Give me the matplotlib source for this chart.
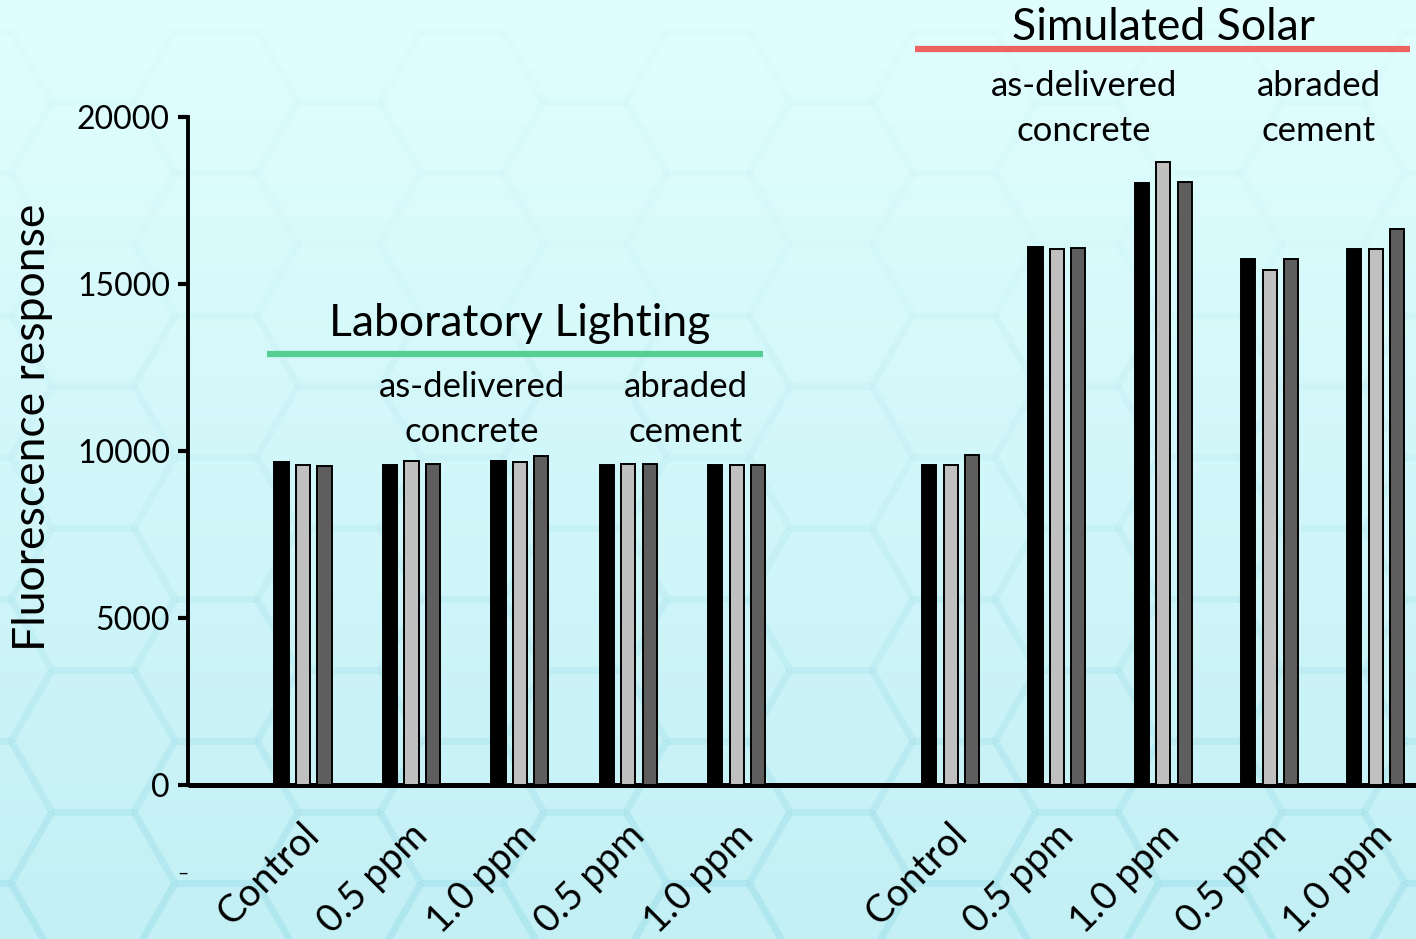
import numpy as np
import matplotlib
matplotlib.use("Agg")
import matplotlib.pyplot as plt
import matplotlib.transforms as mtransforms
from matplotlib.collections import LineCollection

# ---- data ----
categories = ["Control", "0.5 ppm", "1.0 ppm", "0.5 ppm", "1.0 ppm",
              "Control", "0.5 ppm", "1.0 ppm", "0.5 ppm", "1.0 ppm"]
rep1 = [9670, 9580, 9700, 9580, 9580, 9580, 16110, 18020, 15750, 16050]
rep2 = [9580, 9700, 9670, 9610, 9580, 9580, 16050, 18650, 15420, 16050]
rep3 = [9550, 9610, 9850, 9610, 9580, 9880, 16080, 18050, 15750, 16650]
yticks = [0, 5000, 10000, 15000, 20000]
ylabel = "Fluorescence response"

FONT = "Lato"
plt.rcParams["font.family"] = [FONT, "DejaVu Sans"]

W, H = 1416, 939
fig = plt.figure(figsize=(W / 100, H / 100), dpi=100)

# ---- background: soft cyan gradient with faint hexagon mesh ----
bg = fig.add_axes([0, 0, 1, 1], zorder=-10)
bg.set_xlim(0, W)
bg.set_ylim(H, 0)
bg.axis("off")
top = np.array([0.882, 0.996, 0.996])
bot = np.array([0.765, 0.941, 0.961])
t = np.linspace(0, 1, 256)[:, None]
grad = (top[None, :] * (1 - t) + bot[None, :] * t)[:, None, :]
grad = np.repeat(grad, 2, axis=1)
bg.imshow(grad, extent=[0, W, H, 0], aspect="auto", interpolation="bilinear")

s = 82.0
hh = np.sqrt(3) * s
segs, cols = [], []
ang = np.deg2rad(np.arange(0, 361, 60))
for ci in range(-1, int(W / (1.5 * s)) + 3):
    cx = ci * 1.5 * s - 30
    for ri in range(-1, int(H / hh) + 3):
        cy = ri * hh + (hh / 2 if ci % 2 else 0) - 40
        vx = cx + s * np.cos(ang)
        vy = cy + s * np.sin(ang)
        for k in range(6):
            segs.append([(vx[k], vy[k]), (vx[k + 1], vy[k + 1])])
            ym = 0.5 * (vy[k] + vy[k + 1])
            a = np.clip(0.02 + 0.30 * (ym / H) ** 2.5, 0, 0.35)
            cols.append((0.62, 0.88, 0.92, a))
bg.add_collection(LineCollection(segs, colors=cols, linewidths=5))

# ---- main axes ----
ax = fig.add_axes([188 / W, 1 - 785 / H, 1 - 188 / W, (785 - 117) / H])
ax.set_facecolor("none")

lab_pos = np.arange(5)
solar_pos = 5.97 + np.arange(5) * 0.98
pos = np.concatenate([lab_pos, solar_pos])

bw = 0.13
off = 0.198
kw = dict(width=bw, edgecolor="black", linewidth=1.4, zorder=3)
ax.bar(pos - off, rep1, color="#000000", **kw)
ax.bar(pos, rep2, color="#C0C0C0", **kw)
ax.bar(pos + off, rep3, color="#5E5E5E", **kw)

ax.set_xlim(-1.06, 10.26)
ax.set_ylim(0, 20000)
ax.set_yticks(yticks)
ax.set_yticklabels([str(v) for v in yticks], fontsize=23)
ax.tick_params(axis="y", direction="out", length=7, width=3, pad=6, colors="black")
ax.tick_params(axis="x", length=0)
ax.set_xticks([])
for sp in ("top", "right"):
    ax.spines[sp].set_visible(False)
ax.spines["left"].set_linewidth(2.8)
ax.spines["bottom"].set_linewidth(3.6)
ax.spines["bottom"].set_capstyle("butt")

# rotated category labels under each group
for x, lab in zip(pos, categories):
    tr = mtransforms.blended_transform_factory(ax.transData, ax.transAxes) + \
        mtransforms.ScaledTranslation(-0.02, -0.32, fig.dpi_scale_trans)
    ax.text(x, 0, lab, transform=tr, rotation=45, rotation_mode="anchor",
            ha="right", va="top", fontsize=27.5, clip_on=False)

fig.text(33 / W, 1 - 427 / H, ylabel, rotation=90, ha="center", va="center",
         fontsize=32)
fig.text(183 / W, 1 - 873 / H, "\u2013", ha="center", va="center", fontsize=14)

# ---- section headings ----
def fx(px):
    return px / W

def fy(py):
    return 1 - py / H

fig.text(fx(1163), fy(27), "Simulated Solar", ha="center", va="center", fontsize=32)
fig.add_artist(plt.Line2D([fx(915), fx(1410)], [fy(49), fy(49)], color="#EE6262",
                          linewidth=4.5, solid_capstyle="butt"))
fig.text(fx(520), fy(323), "Laboratory Lighting", ha="center", va="center", fontsize=32)
fig.add_artist(plt.Line2D([fx(267), fx(763)], [fy(354), fy(354)], color="#55CE92",
                          linewidth=4.5, solid_capstyle="butt"))

sub = [(472, 387, "as-delivered"), (472, 432, "concrete"),
       (686, 387, "abraded"), (686, 432, "cement"),
       (1084, 86, "as-delivered"), (1084, 131, "concrete"),
       (1319, 86, "abraded"), (1319, 131, "cement")]
for px, py, txt in sub:
    fig.text(fx(px), fy(py), txt, ha="center", va="center", fontsize=25)

fig.savefig("out.png", dpi=100)
